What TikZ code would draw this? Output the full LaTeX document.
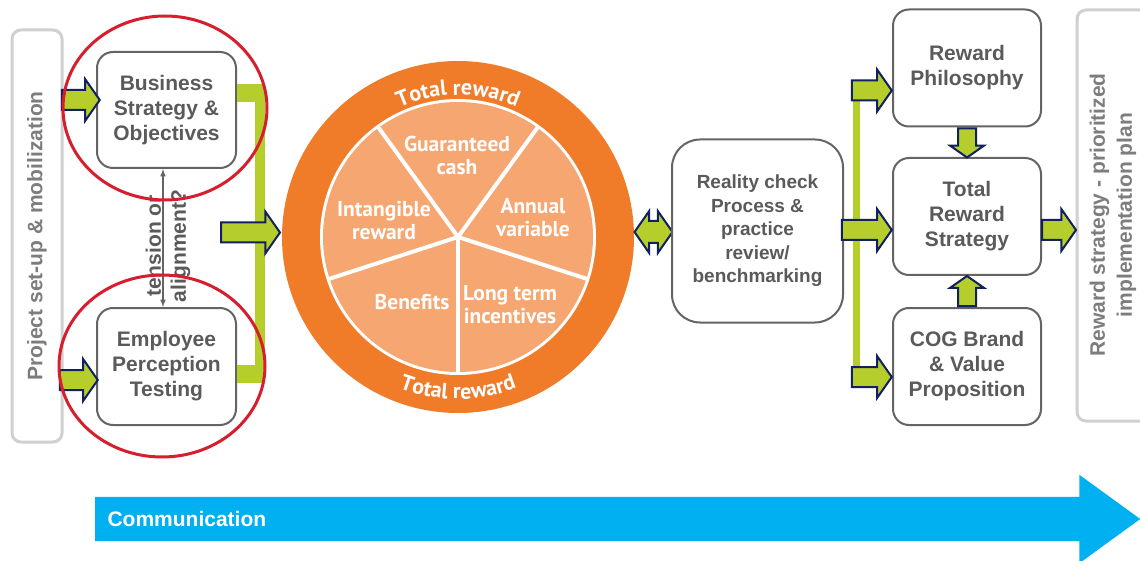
\documentclass[tikz,border=0pt]{standalone}
\usepackage{fontspec}
\setmainfont{Liberation Sans}
\newfontfamily\piefont{PT Sans}
\usetikzlibrary{shapes.arrows,decorations.text}
\usepackage{xcolor}
\definecolor{arrowgreen}{RGB}{181,206,44}
\definecolor{navyline}{RGB}{16,32,96}
\definecolor{boxgray}{RGB}{100,100,100}
\definecolor{textgray}{RGB}{90,90,90}
\definecolor{sidegray}{RGB}{208,208,208}
\definecolor{sidetext}{RGB}{125,125,125}
\definecolor{ringorange}{RGB}{240,123,40}
\definecolor{sliceorange}{RGB}{246,166,112}
\definecolor{circlered}{RGB}{214,30,46}
\definecolor{commblue}{RGB}{0,176,240}
\newcommand\ringfont{\piefont\bfseries\fontsize{22}{22}\selectfont}

\begin{document}
\begin{tikzpicture}[x=1pt,y=-1pt,
  phasebox/.style={draw=boxgray, line width=2pt, rounded corners=16pt, fill=white,
    text=textgray, font=\fontsize{21}{25}\selectfont\bfseries, align=center,
    minimum width=139pt, minimum height=116pt, inner sep=0pt},
  sidebar/.style={draw=sidegray, line width=3pt, rounded corners=9pt, inner sep=0pt},
  sidelabel/.style={text=sidetext, font=\fontsize{21}{27}\selectfont\bfseries, align=center, rotate=90},
  greenarrow/.style={single arrow, draw=navyline, fill=arrowgreen, line width=2pt,
    inner sep=9pt, single arrow head extend=11pt, single arrow tip angle=110},
  slicetext/.style={text=white, font=\piefont\bfseries\fontsize{21.5}{23}\selectfont, align=center},
  focusring/.style={draw=circlered, line width=3pt}]

  \useasboundingbox (0,0) rectangle (1140,561);

%  Side bars
  \node[sidebar, minimum width=50pt, minimum height=412pt] (setup) at (37,236) {};
  \node[sidelabel] at (setup) {Project set-up \& mobilization};
  \node[sidebar, minimum width=90pt, minimum height=411pt] (plan) at (1122,215.5) {};
  \node[sidelabel] at (1113,215) {Reward strategy - prioritized\\implementation plan};

%  Inputs
  \node[phasebox] (biz) at (166.5,110) {Business\\Strategy \&\\Objectives};
  \node[phasebox, minimum height=117pt] (emp) at (166.5,366.5) {Employee\\Perception\\Testing};
  \draw[<->, >=latex, boxgray, line width=1.5pt] ([xshift=-3.5pt]biz.south) -- ([xshift=-3.5pt]emp.north);
  \node[rotate=90, text=textgray, font=\fontsize{21}{25}\selectfont\bfseries, align=center] (tension) at (168,246) {tension or\\alignment?};

  \node[greenarrow, minimum height=38pt, anchor=tip] (inbiz) at (101,100) {};
  \node[greenarrow, minimum height=38pt, anchor=tip] (inemp) at (99,380) {};

  \fill[arrowgreen] (237,84) rectangle (265,102);
  \fill[arrowgreen] (255,84) rectangle (265,383);
  \fill[arrowgreen] (237,365) rectangle (265,383);
  \node[greenarrow, minimum height=59pt, anchor=tail] (topie) at (220,232.5) {};

%  Total reward wheel
  \begin{scope}[shift={(458,237)}, y=1pt]
    \fill[ringorange] (0,0) circle[radius=176];
    \fill[white] (0,0) circle[radius=138];
    \fill[sliceorange] (0,0) circle[radius=135];
    \foreach \a in {54,126,198,270,342}
      \draw[white, line width=4pt] (0,0) -- (\a:137);
    \path[decorate, decoration={text along path, text align=center, text color=white,
      text={|\ringfont|Total reward}}] (130:142) arc[start angle=130, end angle=50, radius=142];
    \path[decorate, decoration={text along path, text align=center, text color=white,
      text={|\ringfont|Total reward}}] (230:162) arc[start angle=230, end angle=310, radius=162];
  \end{scope}
  \node[slicetext] (cash) at (457,155) {Guaranteed\\cash};
  \node[slicetext] (intangible) at (384,221) {Intangible\\reward};
  \node[slicetext] (annual) at (533,218) {Annual\\variable};
  \node[slicetext] (benefits) at (412,302) {Benefits};
  \node[slicetext] (lti) at (510,305) {Long term\\incentives};

  \node[double arrow, draw=navyline, fill=arrowgreen, line width=2pt, inner sep=10pt,
    double arrow head extend=10pt, double arrow tip angle=110, minimum height=38pt] (wheelcheck) at (653.5,232) {};

%  Reality check and outputs
  \node[phasebox, minimum width=171pt, minimum height=183pt, rounded corners=28pt,
    font=\fontsize{19}{23.5}\selectfont\bfseries] (reality) at (757.5,231) {Reality check\\Process \&\\practice\\review/\\benchmarking};

  \node[phasebox, minimum width=148pt, minimum height=117pt] (philo) at (967,68) {Reward\\Philosophy};
  \node[phasebox, minimum width=148pt, minimum height=117pt] (total) at (967,216.5) {Total\\Reward\\Strategy};
  \node[phasebox, minimum width=148pt, minimum height=117pt] (cog) at (967,366.5) {COG Brand\\\& Value\\Proposition};

  \fill[arrowgreen] (853,84) rectangle (860,386);
  \node[greenarrow, minimum height=40pt, anchor=tip] (tophilo) at (893,90.5) {};
  \node[greenarrow, minimum height=50pt, anchor=tip] (tototal) at (893,230) {};
  \node[greenarrow, minimum height=40pt, anchor=tip] (tocog) at (893,377) {};

  \node[greenarrow, shape border rotate=270, inner sep=8pt, single arrow head extend=8pt,
    minimum height=29pt, anchor=tail] (philodown) at (philo.south) {};
  \node[greenarrow, shape border rotate=90, inner sep=8pt, single arrow head extend=8pt,
    minimum height=30pt, anchor=tail] (cogup) at (cog.north) {};
  \node[greenarrow, minimum height=34pt, anchor=tail] (toplan) at (1041,230) {};

%  Focus rings
  \draw[focusring] (165,108) ellipse[x radius=102, y radius=92];
  \draw[focusring] (162,366) ellipse[x radius=103, y radius=91];

%  Communication
  \node[single arrow, fill=commblue, inner sep=22pt, single arrow head extend=22pt,
    single arrow tip angle=72, minimum height=1045pt, anchor=tail] (comm) at (95,519) {};
  \node[anchor=west, text=white, font=\fontsize{21}{25}\selectfont\bfseries] at ([xshift=9pt]comm.tail) {Communication};

\end{tikzpicture}
\end{document}
